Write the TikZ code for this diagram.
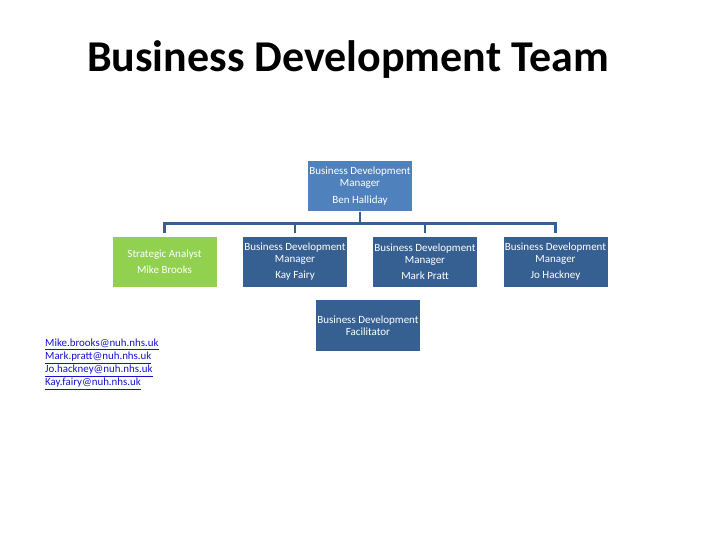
\documentclass[tikz,border=0pt]{standalone}
\usepackage{fontspec}
\setmainfont{Carlito}
\usepackage{tikz}
\usetikzlibrary{positioning,calc}
\definecolor{lightblue}{RGB}{79,129,189}
\definecolor{darkblue}{RGB}{55,96,146}
\definecolor{leafgreen}{RGB}{146,208,80}
\definecolor{linkblue}{RGB}{20,20,200}

\begin{document}
\begin{tikzpicture}[x=1pt, y=-1pt,
    box/.style={draw=none, fill=darkblue, text=white, minimum width=104pt, minimum height=50pt, align=center, font=\fontsize{11}{12}\selectfont, inner sep=1pt},
    topbox/.style={box, fill=lightblue},
    greenbox/.style={box, fill=leafgreen},
    conn/.style={draw=darkblue, line width=2.6pt},
    mail/.style={anchor=north west, align=left, text=linkblue, font=\fontsize{10.9}{13}\selectfont, inner sep=0pt}
]
\useasboundingbox (0,0) rectangle (720,540);

% title
\node[anchor=base, font=\fontsize{44}{50}\bfseries\selectfont] (title) at (348,72) {Business Development Team};

% chart
\node[topbox] (ben) at (360,186.5) {Business Development\\Manager\\[5pt]Ben Halliday};
\node[greenbox] (mike) at (164.5,262) {Strategic Analyst\\[4pt]Mike Brooks};
\node[box] (kay) at (295,262) {Business Development\\Manager\\[4pt]Kay Fairy};
\node[box] (mark) at (425,262) {Business Development\\Manager\\[4pt]Mark Pratt};
\node[box] (jo) at (555.5,262) {Business Development\\Manager\\[4pt]Jo Hackney};
\node[box, minimum height=51pt] (fac) at (368,325.5) {Business Development\\Facilitator};

\coordinate (bar) at ($(ben.south)+(0,12)$);
\foreach \n in {mike,kay,mark,jo}
    \draw[conn, shorten >=4pt] (ben.south) -- (bar) -| (\n.north);

% contacts
\node[mail] (mails) at (45,339) {\underline{Mike.brooks@nuh.nhs.uk}\\\underline{Mark.pratt@nuh.nhs.uk}\\\underline{Jo.hackney@nuh.nhs.uk}\\\underline{Kay.fairy@nuh.nhs.uk}};
\end{tikzpicture}
\end{document}
